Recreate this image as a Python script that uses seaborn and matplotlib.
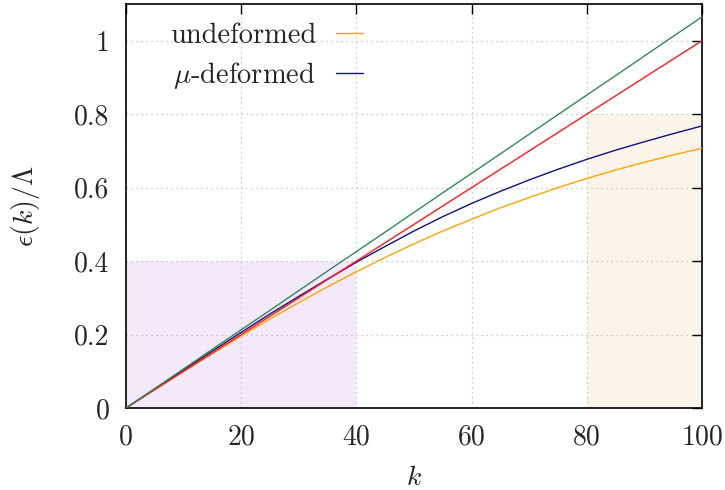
import numpy as np
import pandas as pd
import matplotlib
matplotlib.use("Agg")
import matplotlib.pyplot as plt
import seaborn as sns
from matplotlib.ticker import FuncFormatter
from matplotlib.lines import Line2D

# ---- data ----
k = [0, 5, 10, 15, 20, 25, 30, 35, 40, 45, 50, 55, 60, 65, 70, 75, 80, 85, 90, 95, 100]
undeformed = [0, 0.050, 0.0995, 0.148, 0.196, 0.2425, 0.287, 0.330, 0.371, 0.410,
              0.447, 0.482, 0.514, 0.545, 0.573, 0.600, 0.625, 0.648, 0.669, 0.689, 0.707]
mu_deformed = [0, 0.052, 0.104, 0.155, 0.206, 0.256, 0.304, 0.351, 0.397, 0.440,
               0.482, 0.521, 0.557, 0.590, 0.621, 0.650, 0.677, 0.702, 0.725, 0.747, 0.768]
linear_red = [0, 0.05, 0.1, 0.15, 0.2, 0.25, 0.3, 0.35, 0.4, 0.45, 0.5,
              0.55, 0.6, 0.65, 0.7, 0.75, 0.8, 0.85, 0.9, 0.95, 1.0]
linear_green = [0, 0.053, 0.1065, 0.160, 0.213, 0.266, 0.3195, 0.373, 0.426, 0.479, 0.5325,
                0.586, 0.639, 0.692, 0.7455, 0.799, 0.852, 0.905, 0.9585, 1.012, 1.065]
x_ticks = [0, 20, 40, 60, 80, 100]
y_ticks = [0, 0.2, 0.4, 0.6, 0.8, 1.0]
region_purple = (0, 40, 0.4)   # k from, k to, height
region_tan = (80, 100, 0.8)

sns.set_theme(style="white")
plt.rcParams["font.family"] = ["cmr10", "DejaVu Serif"]
plt.rcParams["mathtext.fontset"] = "cm"
plt.rcParams["axes.formatter.use_mathtext"] = True
plt.rcParams["axes.unicode_minus"] = False

fig = plt.figure(figsize=(7.25, 4.9), dpi=100)
ax = fig.add_axes([126/725, 1-408/490, 576/725, 404/490])

ax.fill_between([region_purple[0], region_purple[1]], 0, region_purple[2],
                color="#f3e9f9", lw=0, zorder=0)
ax.fill_between([region_tan[0], region_tan[1]], 0, region_tan[2],
                color="#fbf4e8", lw=0, zorder=0)

n = len(k)
df = pd.DataFrame({
    "k": k * 4,
    "eps": undeformed + mu_deformed + linear_red + linear_green,
    "series": (["undeformed"] * n + [r"$\mu$-deformed"] * n
               + ["red"] * n + ["green"] * n),
})
palette = {"undeformed": "#ffa500", r"$\mu$-deformed": "#10108a",
           "red": "#ff1a1a", "green": "#2e8b57"}
sns.lineplot(data=df, x="k", y="eps", hue="series", palette=palette,
             lw=1.0, ax=ax, legend=False, zorder=3)

ax.set_xlim(0, 100)
ax.set_ylim(0, 1.1)
ax.set_xticks(x_ticks)
ax.set_yticks(y_ticks)
ax.yaxis.set_major_formatter(FuncFormatter(lambda v, p: f"{v:g}"))
ax.xaxis.set_major_formatter(FuncFormatter(lambda v, p: f"{v:g}"))
ax.tick_params(direction="in", length=7, width=1.0, color="black",
               top=True, right=True, labelsize=20, pad=12)
ax.grid(True, color="#bbbbbb", linestyle=(0, (1, 3)), lw=0.9)
for s in ax.spines.values():
    s.set_color("black")
    s.set_linewidth(1.2)

ax.set_xlabel(r"$k$", fontsize=20, labelpad=10)
ax.set_ylabel(r"$\epsilon(k)/\Lambda$", fontsize=20)
ax.yaxis.set_label_coords(-0.145, 0.5)

handles = [Line2D([], [], color=palette["undeformed"], lw=1.0),
           Line2D([], [], color=palette[r"$\mu$-deformed"], lw=1.0)]
ax.legend(handles, ["undeformed", r"$\mu$-deformed"], loc="upper right",
          bbox_to_anchor=(363/725, 1-23/490), bbox_transform=fig.transFigure,
          frameon=False, markerfirst=False, fontsize=20.5, handlelength=0.95,
          handletextpad=0.7, labelspacing=0.36, borderpad=0, borderaxespad=0)

fig.savefig("out.png", dpi=100)
